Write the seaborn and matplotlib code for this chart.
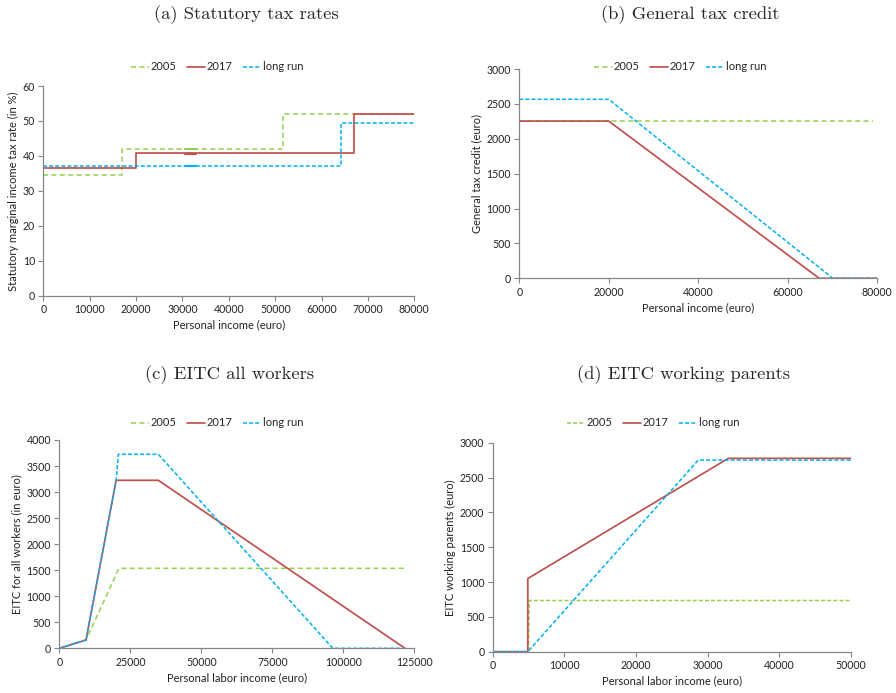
import matplotlib
matplotlib.use("Agg")
import matplotlib.pyplot as plt
import seaborn as sns
import pandas as pd

# ---- (a) statutory marginal income tax rates (step schedules) ----
rate_income_2005 = [0, 17000, 17000, 51700, 51700, 80000]
rate_2005 = [34.4, 34.4, 42.0, 42.0, 52.0, 52.0]
rate_income_2017 = [0, 19982, 19982, 67072, 67072, 80000]
rate_2017 = [36.55, 36.55, 40.8, 40.8, 52.0, 52.0]
rate_income_lr = [0, 64300, 64300, 80000]
rate_lr = [37.0, 37.0, 49.5, 49.5]
# short bracket segments drawn over the schedules
bracket_income = [30500, 33000]
bracket_2005 = [42.0, 42.0]
bracket_2017 = [40.6, 40.6]
bracket_lr = [37.1, 37.1]

# ---- (b) general tax credit ----
gtc_income_2005 = [0, 79000]
gtc_2005 = [2254, 2254]
gtc_income_2017 = [0, 19982, 67068, 80000]
gtc_2017 = [2254, 2254, 0, 0]
gtc_income_lr = [0, 19982, 70100, 80000]
gtc_lr = [2566, 2566, 0, 0]

# ---- (c) EITC for all workers ----
eitc_income_2005 = [0, 9400, 21000, 121500]
eitc_2005 = [0, 160, 1536, 1536]
eitc_income_2017 = [0, 9400, 20000, 34860, 121700]
eitc_2017 = [0, 160, 3226, 3226, 0]
eitc_income_lr = [0, 9400, 20000, 20800, 34860, 96300, 121500]
eitc_lr = [0, 160, 3226, 3725, 3725, 0, 0]

# ---- (d) EITC for working parents ----
par_income_2005 = [0, 5000, 5100, 50000]
par_2005 = [0, 0, 735, 735]
par_income_2017 = [0, 4900, 4900, 32900, 50000]
par_2017 = [0, 0, 1050, 2775, 2775]
par_income_lr = [0, 4900, 28700, 50000]
par_lr = [0, 0, 2750, 2750]

series_names = ["2005", "2017", "long run"]

sns.set_style("ticks")
plt.rcParams["font.family"] = ["Lato", "DejaVu Sans"]
plt.rcParams["font.size"] = 8

GREEN = "#92D050"
RED = "#C0504D"
BLUE = "#00B0F0"
AXIS_GREY = "#868686"
TEXT = "#222222"

fig = plt.figure(figsize=(8.96, 6.93), dpi=100)

positions = {
    "a": [0.0483, 0.5733, 0.4141, 0.3026],
    "b": [0.5796, 0.5984, 0.3992, 0.3020],
    "c": [0.0662, 0.0645, 0.3962, 0.3006],
    "d": [0.5499, 0.0596, 0.3996, 0.3016],
}


def draw_panel(key, data, title, title_xy, xlabel, ylabel, xlim, xticks,
               ylim, yticks, legend_xy, green_dash):
    ax = fig.add_axes(positions[key])
    styles = [
        dict(color=GREEN, lw=1.1, linestyle=(0, green_dash)),
        dict(color=RED, lw=1.25, linestyle="-"),
        dict(color=BLUE, lw=1.1, linestyle=(0, (2.6, 1.4))),
    ]
    for (xs, ys), name, st in zip(data, series_names, styles):
        df = pd.DataFrame({"income": xs, "value": ys})
        sns.lineplot(data=df, x="income", y="value", ax=ax, sort=False,
                     estimator=None, label=name, **st)
    ax.set_xlim(*xlim)
    ax.set_ylim(*ylim)
    ax.set_xticks(xticks)
    ax.set_yticks(yticks)
    ax.set_xlabel(xlabel, fontsize=8, color=TEXT, labelpad=3)
    ax.set_ylabel(ylabel, fontsize=8, color=TEXT, labelpad=3)
    for side in ("top", "right"):
        ax.spines[side].set_visible(False)
    for side in ("left", "bottom"):
        ax.spines[side].set_color(AXIS_GREY)
        ax.spines[side].set_linewidth(0.9)
    ax.tick_params(axis="both", direction="out", length=3.5, width=0.8,
                   color=AXIS_GREY, labelsize=7.6, labelcolor=TEXT, pad=2.5)
    ax.margins(0)
    ax.legend(loc="center", bbox_to_anchor=legend_xy,
              bbox_transform=fig.transFigure, ncol=3, frameon=False,
              fontsize=8, handlelength=1.6, handletextpad=0.2,
              columnspacing=0.9, borderaxespad=0)
    fig.text(title_xy[0], title_xy[1], title, ha="center", va="center",
             fontsize=13.4, family="cmr10")
    return ax


ax_a = draw_panel("a",
                  [(rate_income_2005, rate_2005), (rate_income_2017, rate_2017),
                   (rate_income_lr, rate_lr)],
                  "(a) Statutory tax rates", (246 / 896, 1 - 15 / 693),
                  "Personal income (euro)",
                  "Statutory marginal income tax rate (in %)",
                  (0, 80000), range(0, 80001, 10000), (0, 60),
                  range(0, 61, 10),
                  (217 / 896, 1 - 67 / 693), (3.3, 2.2))
for ys, col in zip([bracket_2005, bracket_2017, bracket_lr],
                   [GREEN, RED, BLUE]):
    sns.lineplot(x=bracket_income, y=ys, ax=ax_a, color=col, lw=1.6,
                 legend=False, sort=False, estimator=None)

draw_panel("b",
           [(gtc_income_2005, gtc_2005), (gtc_income_2017, gtc_2017),
            (gtc_income_lr, gtc_lr)],
           "(b) General tax credit", (690 / 896, 1 - 15 / 693),
           "Personal income (euro)", "General tax credit (euro)",
           (0, 80000), range(0, 80001, 20000), (0, 3000),
           range(0, 3001, 500),
           (680 / 896, 1 - 67 / 693), (3.3, 2.2))

draw_panel("c",
           [(eitc_income_2005, eitc_2005), (eitc_income_2017, eitc_2017),
            (eitc_income_lr, eitc_lr)],
           "(c) EITC all workers", (230 / 896, 1 - 375 / 693),
           "Personal labor income (euro)", "EITC for all workers (in euro)",
           (0, 125000), range(0, 125001, 25000), (0, 4000),
           range(0, 4001, 500),
           (217 / 896, 1 - 423 / 693), (3.3, 2.2))

draw_panel("d",
           [(par_income_2005, par_2005), (par_income_2017, par_2017),
            (par_income_lr, par_lr)],
           "(d) EITC working parents", (684 / 896, 1 - 375 / 693),
           "Personal labor income (euro)", "EITC working parents (euro)",
           (0, 50000), range(0, 50001, 10000), (0, 3000),
           range(0, 3001, 500),
           (653 / 896, 1 - 423 / 693), (2.6, 1.4))

fig.savefig("out.png", dpi=100)
